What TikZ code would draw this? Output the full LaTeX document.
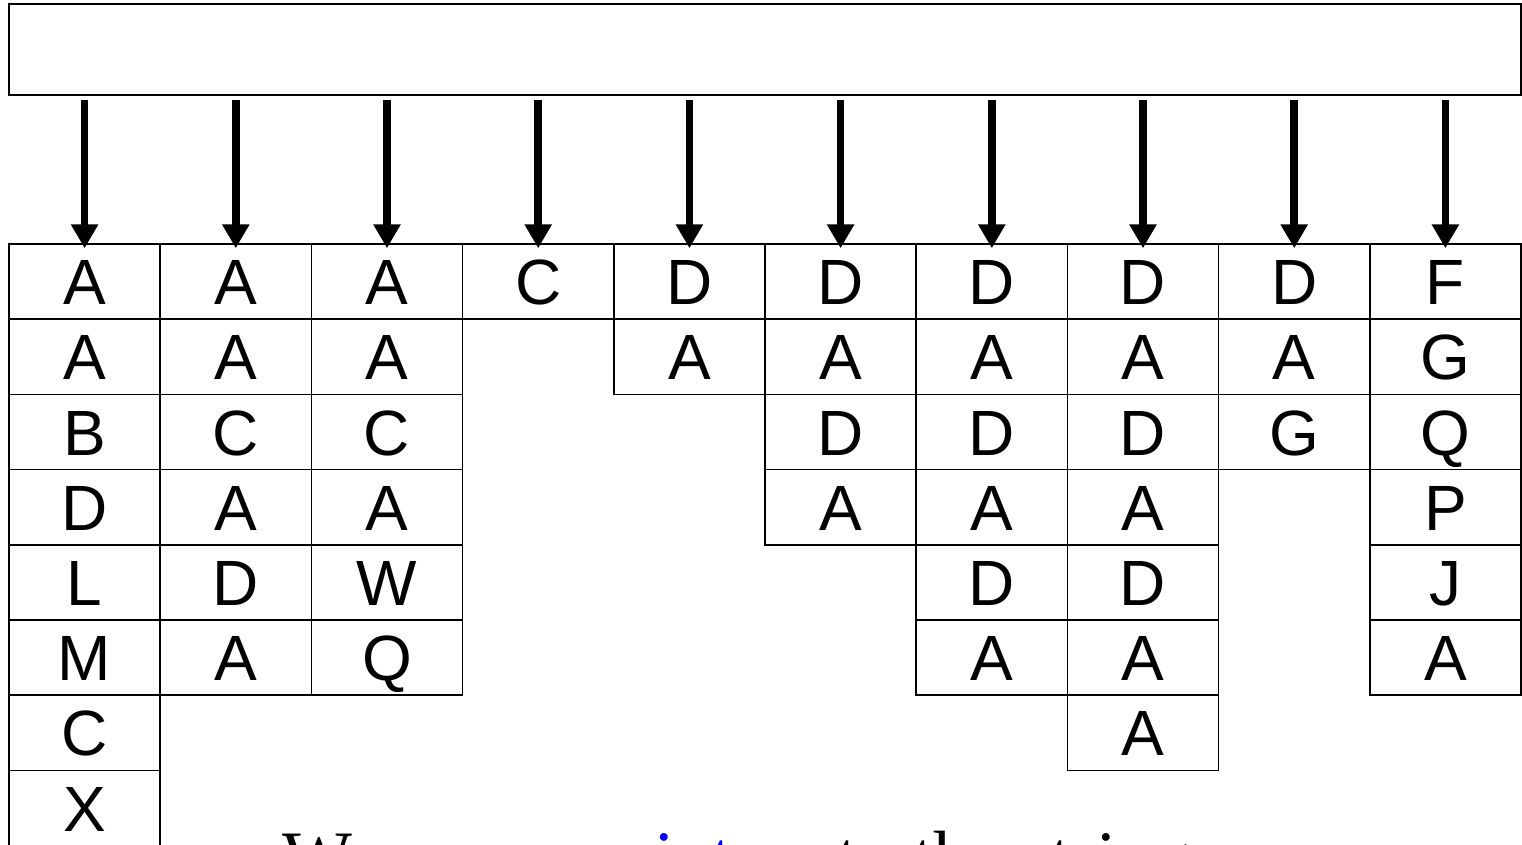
\documentclass[tikz,border=0pt]{standalone}
\usepackage{fontspec}
\setmainfont{Liberation Serif}
\newfontfamily\cellfont{Liberation Sans}
\usepackage{tikz}
\usetikzlibrary{calc,positioning,arrows.meta}

\begin{document}
\begin{tikzpicture}[x=1pt,y=-1pt,
  cell/.style={draw,line width=1.5pt,minimum width=151.2pt,minimum height=75.2pt,inner sep=0pt,
    text height=46pt,text depth=0pt,font=\cellfont\fontsize{64}{64}\selectfont},
  ptr/.style={line width=7.5pt,-{Triangle[width=26pt,length=24pt]}}]
\useasboundingbox (0,0) rectangle (1522,845);
\node[draw,line width=2pt,minimum width=1512pt,minimum height=91pt,inner sep=0pt] (buf) at (765,49.5) {};
% one column of cells per string
\foreach \col/\word in {1/{A,A,B,D,L,M,C,X},2/{A,A,C,A,D,A},3/{A,A,C,A,W,Q},4/{C},5/{D,A},6/{D,A,D,A},7/{D,A,D,A,D,A},8/{D,A,D,A,D,A,A},9/{D,A,G},10/{F,G,Q,P,J,A}} {
  \foreach \ch [count=\row] in \word {\node[cell] (c\col-\row) at ({9+151.2*(\col-0.5)},{244+75.2*(\row-0.5)}) {\ch};}
  \draw[ptr] ($(buf.south -| c\col-1.north)+(0,4)$) -- ($(c\col-1.north)+(0,5)$);
}
\node[anchor=base west,font=\fontsize{74}{74}\selectfont,inner sep=0pt] (note) at (282,882) {We move \textcolor{blue}{pointers} to the strings};
\end{tikzpicture}
\end{document}
